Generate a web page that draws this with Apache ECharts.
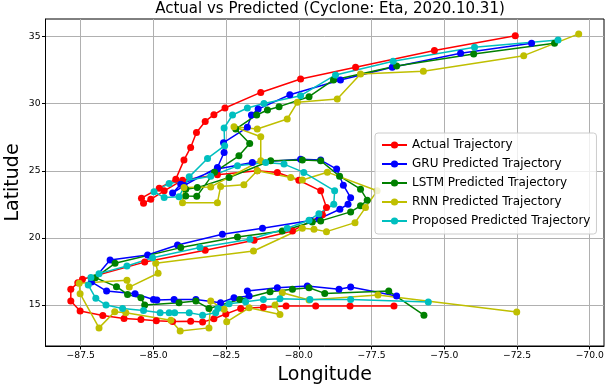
<!DOCTYPE html>
<html><head><meta charset="utf-8">
<script src="https://cdn.jsdelivr.net/npm/echarts@6/dist/echarts.min.js"></script>
<style>html,body{margin:0;padding:0;background:#fff}#c{width:608px;height:386px}</style>
</head><body><div id="c"></div>
<script>
const titleText = 'Actual vs Predicted (Cyclone: Eta, 2020.10.31)';
const seriesNames = ['Actual Trajectory','GRU Predicted Trajectory','LSTM Predicted Trajectory','RNN Predicted Trajectory','Proposed Predicted Trajectory'];
const xTicks = [-87.5,-85.0,-82.5,-80.0,-77.5,-75.0,-72.5,-70.0];
const yTicks = [15,20,25,30,35];

const actualLon = [-76.73,-78.24,-79.42,-80.44,-81.22,-82.0,-82.51,-82.92,-83.31,-83.72,-84.34,-84.9,-85.43,-86.01,-86.74,-87.52,-87.84,-87.84,-87.6,-87.44,-85.3,-83.22,-81.54,-80.22,-79.19,-79.05,-79.25,-80.0,-80.74,-81.43,-82.8,-84.0,-84.63,-85.09,-85.34,-85.41,-84.8,-84.23,-83.95,-83.72,-83.52,-83.22,-82.92,-82.54,-81.31,-79.94,-78.05,-75.34,-72.56];
const actualLat = [14.93,14.93,14.93,14.93,14.83,14.75,14.33,13.98,13.73,13.8,13.78,13.83,13.93,14.0,14.23,14.55,15.3,16.17,16.66,16.92,18.2,19.08,19.83,20.52,21.72,22.26,23.51,24.3,24.87,25.0,24.7,24.3,23.51,22.88,22.59,22.96,23.7,24.38,25.8,26.74,27.86,28.68,29.18,29.68,30.84,31.84,32.71,33.96,35.07];

const gruLon = [-76.64,-78.22,-78.62,-79.71,-80.74,-81.77,-81.71,-82.23,-82.69,-83.54,-84.29,-84.88,-85.0,-85.63,-86.61,-87.13,-86.49,-85.2,-84.17,-82.63,-81.25,-79.6,-79.31,-78.59,-78.31,-78.22,-78.47,-78.7,-79.25,-79.94,-81.6,-82.8,-84.06,-84.34,-83.95,-82.8,-82.57,-82.59,-81.77,-81.63,-81.4,-80.31,-78.57,-76.79,-74.44,-72.0];
const gruLat = [15.67,16.34,16.17,16.42,16.29,16.04,15.67,15.54,15.17,15.42,15.42,15.37,15.42,15.84,16.04,16.72,18.36,18.73,19.48,20.28,20.72,21.3,21.42,22.14,22.51,23.0,23.93,25.13,25.8,25.87,25.62,25.13,24.0,23.34,23.9,25.25,26.37,27.1,28.24,29.16,29.6,30.67,31.77,32.71,33.76,34.5];

const lstmLon = [-75.7,-76.91,-79.11,-79.65,-80.22,-80.99,-82.03,-83.09,-83.54,-84.12,-85.3,-85.43,-85.89,-86.27,-87.0,-86.32,-84.06,-82.11,-80.57,-79.54,-79.25,-78.22,-77.88,-77.65,-77.88,-78.6,-79.25,-79.88,-80.97,-82.4,-83.49,-83.89,-83.89,-83.51,-82.9,-82.06,-81.69,-82.17,-81.45,-81.08,-80.68,-79.65,-78.81,-76.64,-73.99,-71.21];
const lstmLat = [14.25,16.04,15.87,16.29,16.17,15.99,15.42,14.75,15.3,15.17,15.0,15.54,15.79,16.37,17.04,18.11,19.28,20.07,20.52,21.19,21.27,21.94,22.39,22.81,23.63,24.6,25.75,25.8,25.75,24.5,23.75,23.63,23.13,23.1,24.9,26.12,27.04,28.11,29.16,29.53,29.78,30.52,31.77,32.81,33.71,34.5];

const rnnLon = [-72.51,-77.28,-79.65,-80.57,-80.82,-80.65,-81.71,-82.48,-82.57,-83.03,-83.09,-84.08,-84.4,-85.95,-86.33,-86.87,-87.52,-87.55,-85.91,-85.83,-84.84,-84.92,-81.56,-79.88,-79.48,-79.05,-78.07,-77.71,-77.31,-79.02,-79.88,-80.28,-81.43,-81.89,-82.69,-82.8,-84.0,-83.95,-83.03,-81.31,-81.31,-82.23,-81.43,-80.4,-80.05,-78.68,-77.88,-75.72,-72.27,-70.38];
const rnnLat = [14.48,15.75,15.37,15.92,15.0,14.3,14.8,13.75,14.68,15.3,13.3,13.06,13.86,14.43,14.5,13.3,15.85,16.62,16.84,16.34,17.37,18.11,19.03,20.72,20.65,20.47,21.14,22.26,23.51,24.9,24.31,24.5,25.0,23.96,23.83,22.63,22.63,23.75,23.8,25.75,27.54,28.28,28.11,28.86,30.1,30.35,32.21,32.41,33.58,35.2];

const propLon = [-75.55,-78.22,-79.62,-80.65,-81.22,-81.83,-82.4,-82.78,-82.86,-83.31,-83.77,-84.27,-84.46,-84.77,-85.34,-86.06,-86.63,-86.98,-87.24,-87.15,-86.87,-85.91,-85.03,-83.4,-81.68,-80.4,-79.65,-79.31,-78.8,-78.77,-79.83,-80.51,-81.14,-82.11,-83.03,-84.46,-84.98,-84.63,-84.12,-83.77,-83.14,-82.55,-82.57,-82.28,-81.77,-81.2,-79.94,-78.74,-76.76,-73.96,-71.09];
const propLat = [15.22,15.42,15.42,15.47,15.42,15.25,15.1,14.75,14.43,14.25,14.43,14.43,14.43,14.43,14.6,14.75,15.0,15.5,16.49,17.05,17.34,17.91,18.53,19.28,19.9,20.72,21.32,21.81,22.51,23.51,24.88,25.5,25.62,25.37,24.6,24.06,23.45,23.01,23.06,24.55,25.92,26.87,28.19,29.16,29.68,30.02,30.6,32.14,33.16,34.2,34.75];

const colors = ['#ff0000','#0000ff','#008000','#bfbf00','#00bfbf'];
const lonSets = [actualLon, gruLon, lstmLon, rnnLon, propLon];
const latSets = [actualLat, gruLat, lstmLat, rnnLat, propLat];

const FONT = 'DejaVu Sans';
const fmtX = v => (v < 0 ? '\u2212' : '') + Math.abs(v).toFixed(1);

const series = seriesNames.map((name, k) => ({
  name: name,
  type: 'line',
  data: lonSets[k].map((x, i) => [x, latSets[k][i]]),
  symbol: 'circle',
  symbolSize: 7,
  showSymbol: true,
  lineStyle: {width: 1.5, color: colors[k]},
  itemStyle: {color: colors[k]},
  emphasis: {disabled: true},
  animation: false
}));

const chart = echarts.init(document.getElementById('c'), null, {renderer: 'canvas'});
chart.setOption({
  animation: false,
  title: {
    text: titleText, left: 325, textAlign: 'center', top: -3,
    textStyle: {fontFamily: FONT, fontSize: 15, fontWeight: 'normal', color: '#000'}
  },
  grid: {left: 45.5, right: 4, top: 19, bottom: 40, outerBoundsMode: 'none', containLabel: false, show: true, borderColor: '#000', borderWidth: 1, backgroundColor: 'transparent'},
  legend: {
    orient: 'vertical', left: 375, top: 133,
    data: seriesNames,
    itemWidth: 25, itemHeight: 9, itemGap: 5,
    padding: [5, 6, 6, 6],
    backgroundColor: 'rgba(255,255,255,0.8)',
    borderColor: '#cccccc', borderWidth: 1, borderRadius: 3,
    textStyle: {fontFamily: FONT, fontSize: 12, color: '#000', lineHeight: 14}
  },
  xAxis: {
    type: 'value', min: -88.71, max: -69.51,
    name: 'Longitude', nameLocation: 'middle', nameGap: 20,
    nameTextStyle: {fontFamily: FONT, fontSize: 19, color: '#000'},
    axisLine: {onZero: false, lineStyle: {color: '#000', width: 1}},
    axisTick: {show: true, inside: false, length: 3.5, customValues: xTicks, lineStyle: {color: '#000'}},
    axisLabel: {customValues: xTicks, formatter: fmtX, fontFamily: FONT, fontSize: 9.2, color: '#000', margin: 5},
    splitLine: {show: true, lineStyle: {color: '#b0b0b0', width: 1}}
  },
  yAxis: {
    type: 'value', min: 11.95, max: 36.31,
    name: 'Latitude', nameLocation: 'middle', nameGap: 23, nameRotate: 90, nameMoveOverlap: false,
    nameTextStyle: {fontFamily: FONT, fontSize: 19, color: '#000'},
    axisLine: {onZero: false, lineStyle: {color: '#000', width: 1}},
    axisTick: {show: true, inside: false, length: 3.5, customValues: yTicks, lineStyle: {color: '#000'}},
    axisLabel: {customValues: yTicks, fontFamily: FONT, fontSize: 9.2, color: '#000', margin: 5},
    splitLine: {show: true, lineStyle: {color: '#b0b0b0', width: 1}}
  },
  series: series
});
</script></body></html>
